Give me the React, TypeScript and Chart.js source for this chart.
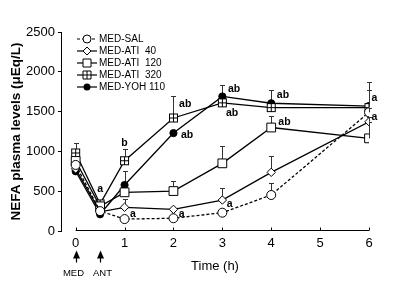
import React, { useEffect, useRef } from 'react';
import { Chart, registerables } from 'chart.js';

Chart.register(...registerables);

const FONT = '"Liberation Sans", Arial, Helvetica, sans-serif';

// ---- data ----
const times = [0, 0.5, 1, 2, 3, 4, 6];
const xTicks = [0, 1, 2, 3, 4, 5, 6];
const yTicks = [0, 500, 1000, 1500, 2000, 2500];

const seriesNames = ['MED-SAL', 'MED-ATI  40', 'MED-ATI  120', 'MED-ATI  320', 'MED-YOH 110'];

const salValues = [830, 250, 150, 160, 230, 452, 1491];
const salErr = [0, 0, 0, 0, 0, 150, 60];
const ati40Values = [780, 240, 298, 272, 389, 737, 1373];
const ati40Err = [0, 0, 105, 0, 145, 210, 60];
const ati120Values = [880, 310, 486, 502, 850, 1300, 1164];
const ati120Err = [0, 0, 0, 130, 220, 150, 200];
const ati320Values = [980, 340, 883, 1420, 1610, 1550, 1550];
const ati320Err = [130, 0, 150, 275, 0, 0, 225];
const yohValues = [750, 210, 578, 1230, 1690, 1605, 1570];
const yohErr = [0, 0, 180, 0, 150, 170, 300];

// significance annotations
const noteText = ['a', 'b', 'a', 'a', 'ab', 'ab', 'ab', 'ab', 'ab', 'ab', 'a', 'a', 'a'];
const noteX = [0.5, 1.0, 1.17, 2.17, 2.24, 2.28, 3.24, 3.2, 4.24, 4.27, 3.15, 6.11, 6.11];
const noteY = [527, 1105, 210, 215, 1591, 1206, 1780, 1478, 1708, 1365, 335, 1667, 1428];

// event arrows under the axis
const eventTimes = [0, 0.5];
const eventNames = ['MED', 'ANT'];

function crossedSquare(): HTMLCanvasElement {
  const c = document.createElement('canvas');
  c.width = 11;
  c.height = 11;
  const g = c.getContext('2d')!;
  g.fillStyle = '#fff';
  g.fillRect(1, 1, 9, 9);
  g.strokeStyle = '#000';
  g.lineWidth = 1;
  g.strokeRect(1.5, 1.5, 8, 8);
  g.beginPath();
  g.moveTo(5.5, 1.5);
  g.lineTo(5.5, 9.5);
  g.moveTo(1.5, 5.5);
  g.lineTo(9.5, 5.5);
  g.stroke();
  return c;
}

function drawMarker(ctx: CanvasRenderingContext2D, kind: string, x: number, y: number) {
  ctx.save();
  ctx.lineWidth = 1;
  ctx.strokeStyle = '#000';
  ctx.fillStyle = '#fff';
  ctx.setLineDash([]);
  ctx.beginPath();
  if (kind === 'circle') {
    ctx.arc(x, y, 4, 0, Math.PI * 2);
    ctx.fill();
    ctx.stroke();
  } else if (kind === 'diamond') {
    ctx.moveTo(x - 4, y);
    ctx.lineTo(x, y - 4);
    ctx.lineTo(x + 4, y);
    ctx.lineTo(x, y + 4);
    ctx.closePath();
    ctx.fill();
    ctx.stroke();
  } else if (kind === 'square') {
    ctx.rect(x - 4, y - 4, 8, 8);
    ctx.fill();
    ctx.stroke();
  } else if (kind === 'xsquare') {
    ctx.rect(x - 4, y - 4, 8, 8);
    ctx.fill();
    ctx.stroke();
    ctx.beginPath();
    ctx.moveTo(x, y - 4);
    ctx.lineTo(x, y + 4);
    ctx.moveTo(x - 4, y);
    ctx.lineTo(x + 4, y);
    ctx.stroke();
  } else {
    ctx.fillStyle = '#000';
    ctx.arc(x, y, 3.5, 0, Math.PI * 2);
    ctx.fill();
  }
  ctx.restore();
}

const legendKinds = ['circle', 'diamond', 'square', 'xsquare', 'dot'];
const legendDash = [[3, 2], [], [], [], []];

const overlayPlugin = {
  id: 'overlay',
  beforeDatasetsDraw(chart: any) {
    const ctx = chart.ctx as CanvasRenderingContext2D;
    const xs = chart.scales.x;
    const ys = chart.scales.y;
    ctx.save();
    ctx.strokeStyle = '#333';
    ctx.lineWidth = 1;
    chart.data.datasets.forEach((ds: any) => {
      const errs: number[] = ds.errors;
      ds.data.forEach((p: any, i: number) => {
        const e = errs[i];
        if (!e) return;
        const px = Math.round(xs.getPixelForValue(p.x)) + 0.5;
        const y0 = ys.getPixelForValue(p.y);
        const y1 = Math.round(ys.getPixelForValue(p.y + e)) + 0.5;
        ctx.beginPath();
        ctx.moveTo(px, y0);
        ctx.lineTo(px, y1);
        ctx.moveTo(px - 2.5, y1);
        ctx.lineTo(px + 2.5, y1);
        ctx.stroke();
      });
    });
    ctx.restore();
  },
  afterDraw(chart: any) {
    const ctx = chart.ctx as CanvasRenderingContext2D;
    const xs = chart.scales.x;
    const ys = chart.scales.y;
    const area = chart.chartArea;
    ctx.save();
    // x axis line starting at t = 0
    const yAxis = Math.round(ys.getPixelForValue(0)) - 0.5;
    ctx.strokeStyle = '#000';
    ctx.lineWidth = 1;
    ctx.beginPath();
    ctx.moveTo(xs.getPixelForValue(xTicks[0]), yAxis);
    ctx.lineTo(xs.getPixelForValue(xTicks[xTicks.length - 1]), yAxis);
    ctx.stroke();
    xTicks.forEach((t) => {
      const px = Math.round(xs.getPixelForValue(t)) + 0.5;
      ctx.beginPath();
      ctx.moveTo(px, yAxis);
      ctx.lineTo(px, yAxis - 3);
      ctx.stroke();
    });

    // legend
    const lx0 = area.left + 16;
    const lx1 = area.left + 36;
    const ly0 = area.top + 7;
    seriesNames.forEach((name, i) => {
      const y = ly0 + i * 12;
      ctx.save();
      ctx.strokeStyle = '#000';
      ctx.lineWidth = 1.2;
      ctx.setLineDash(legendDash[i]);
      ctx.beginPath();
      ctx.moveTo(lx0, y);
      ctx.lineTo(lx1, y);
      ctx.stroke();
      ctx.restore();
      drawMarker(ctx, legendKinds[i], (lx0 + lx1) / 2, y);
      ctx.fillStyle = '#000';
      ctx.font = `10px ${FONT}`;
      ctx.textAlign = 'left';
      ctx.textBaseline = 'middle';
      ctx.fillText(name, lx1 + 2, y + 0.5);
    });

    // annotations
    ctx.fillStyle = '#000';
    ctx.font = `bold 10.5px ${FONT}`;
    ctx.textAlign = 'center';
    ctx.textBaseline = 'middle';
    noteText.forEach((t, i) => {
      ctx.fillText(t, xs.getPixelForValue(noteX[i]), ys.getPixelForValue(noteY[i]));
    });

    // event arrows
    eventTimes.forEach((t, i) => {
      const px = Math.round(xs.getPixelForValue(t)) + 0.5;
      const top = yAxis + 20;
      ctx.beginPath();
      ctx.moveTo(px, top);
      ctx.lineTo(px - 3.5, top + 8);
      ctx.lineTo(px + 3.5, top + 8);
      ctx.closePath();
      ctx.fill();
      ctx.beginPath();
      ctx.lineWidth = 1.2;
      ctx.moveTo(px, top + 6);
      ctx.lineTo(px, top + 12);
      ctx.stroke();
      ctx.font = `9.5px ${FONT}`;
      ctx.textAlign = 'center';
      ctx.fillText(eventNames[i], px + (i === 0 ? -3 : 2), yAxis + 43);
    });
    ctx.restore();
  },
};

export default function App() {
  const ref = useRef<HTMLCanvasElement>(null);
  useEffect(() => {
    const canvas = ref.current!;
    const mk = (vals: number[]) => vals.map((v, i) => ({ x: times[i], y: v }));
    const base = {
      borderColor: '#000',
      borderWidth: 1.3,
      pointBorderColor: '#000',
      pointBackgroundColor: '#fff',
      pointBorderWidth: 1,
      tension: 0,
      fill: false,
    };
    const chart = new Chart(canvas, {
      type: 'line',
      data: {
        datasets: [
          { ...base, label: seriesNames[0], data: mk(salValues), errors: salErr, borderDash: [3, 2], pointStyle: 'circle', pointRadius: 4.5 } as any,
          { ...base, label: seriesNames[1], data: mk(ati40Values), errors: ati40Err, pointStyle: 'rectRot', pointRadius: 4.2 } as any,
          { ...base, label: seriesNames[2], data: mk(ati120Values), errors: ati120Err, pointStyle: 'rect', pointRadius: 6.2 } as any,
          { ...base, label: seriesNames[3], data: mk(ati320Values), errors: ati320Err, pointStyle: crossedSquare() } as any,
          { ...base, label: seriesNames[4], data: mk(yohValues), errors: yohErr, pointStyle: 'circle', pointRadius: 3.6, pointBackgroundColor: '#000' } as any,
        ],
      },
      options: {
        responsive: false,
        animation: false,
        devicePixelRatio: 1,
        layout: { padding: { left: 0, top: 32, right: 31, bottom: 33 } },
        plugins: { legend: { display: false }, tooltip: { enabled: false } },
        scales: {
          x: {
            type: 'linear',
            min: -0.3,
            max: 6,
            afterBuildTicks: (s: any) => {
              s.ticks = xTicks.map((v) => ({ value: v }));
            },
            afterFit: (s: any) => {
              s.height = 44;
            },
            ticks: { font: { size: 13, family: FONT }, color: '#000', padding: 5, maxRotation: 0, autoSkip: false, includeBounds: false, callback: (v: any) => String(v) },
            grid: { display: false, drawTicks: false, tickLength: 0 },
            border: { display: false },
            title: { display: true, text: 'Time (h)', color: '#000', font: { size: 13, family: FONT }, padding: { top: 0, bottom: 1 } },
          },
          y: {
            min: 0,
            max: 2500,
            afterBuildTicks: (s: any) => {
              s.ticks = yTicks.map((v) => ({ value: v }));
            },
            afterFit: (s: any) => {
              s.width = 61;
            },
            ticks: { font: { size: 13, family: FONT }, color: '#000', padding: 3, callback: (v: any) => String(v) },
            grid: { display: true, drawOnChartArea: false, drawTicks: true, tickLength: 3, color: '#000' },
            border: { display: true, color: '#000', width: 1 },
            title: { display: true, text: 'NEFA plasma levels (μEq/L)', color: '#000', font: { size: 13.5, weight: 'bold', family: FONT }, padding: { top: 8, bottom: 0 } },
          },
        },
      } as any,
      plugins: [overlayPlugin],
    });
    return () => chart.destroy();
  }, []);
  return (
    <div style={{ position: 'absolute', left: 0, top: 0, width: 400, height: 308, background: '#fff' }}>
      <canvas ref={ref} width={400} height={308} style={{ width: 400, height: 308, display: 'block' }} />
    </div>
  );
}
